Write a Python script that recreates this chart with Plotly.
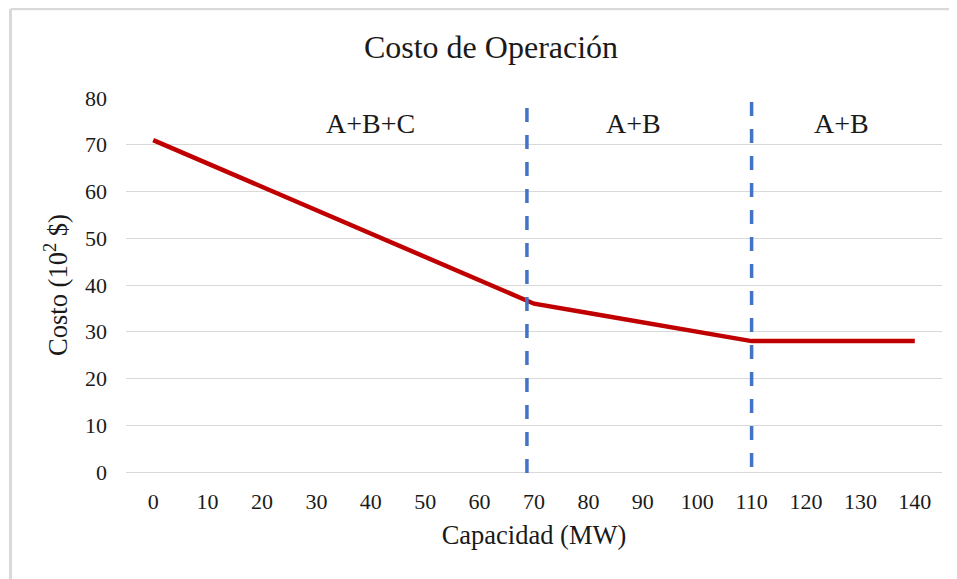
import plotly.graph_objects as go

capacidad = [0, 10, 20, 30, 40, 50, 60, 70, 80, 90, 100, 110, 120, 130, 140]
costo = [71, 66, 61, 56, 51, 46, 41, 36, 34, 32, 30, 28, 28, 28, 28]
limites = [68.7, 110]
regiones = ["A+B+C", "A+B", "A+B"]
region_x = [39.9, 88.2, 126.6]
y_ticks = [0, 10, 20, 30, 40, 50, 60, 70, 80]

FONT = "Liberation Serif, Times New Roman, serif"
TXT = "#1a1a1a"

# page body margin offsets the figure by 8px; work in window pixels
OFF = 8
W, H = 957 - OFF, 579 - OFF
L, T = 126 - OFF, 98 - OFF
R = (W + OFF) - 942
B = (H + OFF) - 472
pw, ph = W - L - R, H - T - B


def px_x(p):
    return (p - OFF - L) / pw


def px_y(p):
    return (H - B - (p - OFF)) / ph


fig = go.Figure()
fig.add_trace(go.Scatter(x=capacidad, y=costo, mode="lines",
                         line=dict(color="#C00000", width=4.5),
                         showlegend=False, hoverinfo="skip"))

shapes = []
# outer frame: top and left edges only (the rest lies outside the window)
shapes.append(dict(type="line", xref="paper", yref="paper",
                   x0=px_x(10.5), x1=px_x(957), y0=px_y(9), y1=px_y(9),
                   line=dict(color="#d9d9d9", width=2.5), layer="below"))
shapes.append(dict(type="line", xref="paper", yref="paper",
                   x0=px_x(10.5), x1=px_x(10.5), y0=px_y(9), y1=px_y(579),
                   line=dict(color="#d9d9d9", width=3), layer="below"))
# white boxes behind labels
for a, b in [(293, 446), (568, 699), (777, 906)]:
    shapes.append(dict(type="rect", xref="paper", yref="paper",
                       x0=px_x(a), x1=px_x(b), y0=px_y(140), y1=px_y(92),
                       line=dict(width=0), fillcolor="white", layer="between"))
# dashed boundaries
for xv, (ya, yb) in zip(limites, [(473, 108), (467, 102)]):
    shapes.append(dict(type="line", xref="x", yref="paper",
                       x0=xv, x1=xv, y0=px_y(ya), y1=px_y(yb),
                       line=dict(color="#4472C4", width=3.5, dash="14px,13px"),
                       layer="above"))

annotations = []
for txt, xv in zip(regiones, region_x):
    annotations.append(dict(x=xv, y=74.6, xref="x", yref="y", text=txt,
                            showarrow=False, font=dict(family=FONT, size=28, color=TXT)))

fig.update_layout(
    width=W, height=H,
    margin=dict(l=L, r=R, t=T, b=B),
    paper_bgcolor="white", plot_bgcolor="white",
    title=dict(text="Costo de Operación", x=(491 - OFF) / W, xanchor="center",
               y=1 - (47 - OFF) / H, yanchor="middle",
               font=dict(family=FONT, size=32, color=TXT)),
    shapes=shapes, annotations=annotations,
    xaxis=dict(range=[-5, 145], tickvals=capacidad, ticktext=[str(v) for v in capacidad],
               showgrid=False, zeroline=False, showline=False, ticks="",
               ticklabelstandoff=14,
               tickfont=dict(family=FONT, size=22, color=TXT),
               title=dict(text="Capacidad (MW)", standoff=12,
                          font=dict(family=FONT, size=26.5, color=TXT))),
    yaxis=dict(range=[0, 80], tickvals=y_ticks, showgrid=True, gridcolor="#d9d9d9",
               gridwidth=1, zeroline=True, zerolinecolor="#d9d9d9", zerolinewidth=1,
               showline=False, ticks="", ticklabelstandoff=18,
               tickfont=dict(family=FONT, size=22, color=TXT),
               title=dict(text="Costo (10<sup>2</sup> $)", standoff=9,
                          font=dict(family=FONT, size=26.5, color=TXT))),
)

fig.write_html("out.html")
